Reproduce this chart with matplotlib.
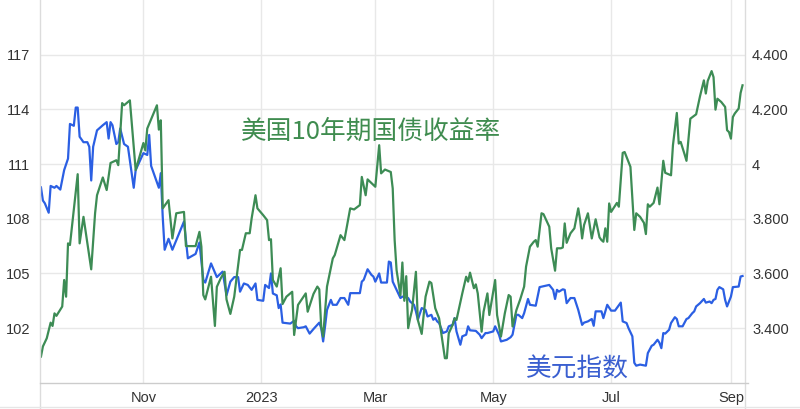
import matplotlib
matplotlib.use("Agg")
import matplotlib.pyplot as plt
import numpy as np
import pandas as pd
from matplotlib.lines import Line2D

start = pd.Timestamp("2022-09-09")

# US dollar index (left axis), days counted from start
dxy_days = [0, 1, 2, 4, 5, 7, 8, 10, 12, 14,
            15, 17, 18, 19, 20, 22, 24, 25, 26, 27,
            29, 32, 34, 35, 36, 37, 39, 40, 41, 43,
            45, 48, 49, 53, 55, 56, 57, 60, 61, 62,
            63, 64, 66, 68, 74, 76, 78, 80, 82, 84,
            85, 88, 91, 94, 96, 98, 100, 102, 103, 105,
            107, 109, 111, 112, 115, 116, 118, 119, 120, 122,
            123, 124, 125, 129, 131, 132, 133, 136, 137, 139,
            141, 144, 145, 146, 147, 148, 150, 151, 153, 155,
            157, 159, 160, 165, 166, 167, 169, 171, 172, 173,
            175, 176, 179, 180, 181, 182, 184, 186, 187, 190,
            191, 193, 194, 195, 197, 199, 200, 202, 203, 204,
            205, 206, 208, 210, 211, 213, 214, 215, 217, 218,
            220, 221, 222, 225, 227, 228, 230, 231, 234, 235,
            237, 238, 241, 243, 244, 246, 247, 249, 250, 252,
            253, 256, 258, 261, 263, 265, 266, 267, 268, 270,
            271, 272, 274, 276, 278, 280, 281, 283, 285, 286,
            287, 290, 291, 293, 295, 297, 300, 301, 303, 304,
            306, 307, 308, 310, 313, 314, 316, 317, 319, 320,
            321, 322, 323, 325, 326, 328, 329, 330, 332, 334,
            335, 337, 338, 339, 341, 343, 344, 346, 347, 348,
            349, 350, 351, 353, 354, 355, 357, 358, 361, 362,
            363]
dxy = [109.72, 109.0, 108.85, 108.33, 109.8, 109.7, 109.8, 109.6, 110.67, 111.3,
       113.2, 113.1, 114.1, 114.1, 112.5, 112.2, 112.2, 111.95, 110.1, 111.95,
       112.85, 113.13, 113.3, 112.4, 113.3, 113.13, 112.1, 112.2, 112.95, 112.1,
       111.95, 109.7, 110.67, 111.6, 111.5, 112.6, 110.9, 110.0, 109.7, 110.5,
       108.1, 106.3, 106.9, 106.3, 107.85, 105.83, 105.95, 106.07, 106.7, 104.65,
       104.5, 105.55, 104.8, 105.1, 103.8, 104.55, 104.8, 104.8, 104.0, 104.45,
       104.37, 104.1, 104.45, 103.55, 103.5, 104.37, 104.2, 105.0, 103.9, 103.8,
       103.1, 103.3, 102.3, 102.25, 102.4, 102.1, 102.0, 102.05, 102.1, 101.7,
       101.95, 102.3, 102.0, 101.27, 102.1, 103.0, 103.55, 103.28, 103.28, 103.65,
       103.65, 103.28, 103.92, 103.92, 104.55, 104.65, 105.23, 104.92, 104.83, 104.55,
       105.0, 104.5, 104.5, 105.65, 105.6, 104.55, 104.1, 103.65, 103.73, 103.65,
       103.46, 103.28, 102.92, 102.46, 103.1, 103.0, 102.64, 102.73, 102.46, 102.55,
       102.37, 102.28, 101.73, 101.82, 102.1, 102.18, 102.55, 101.82, 101.09, 101.55,
       101.64, 102.1, 101.88, 101.85, 101.64, 101.45, 101.73, 101.73, 101.82, 102.1,
       101.64, 101.27, 101.36, 101.5, 101.64, 102.73, 102.73, 102.55, 102.82, 103.6,
       103.28, 103.23, 104.25, 104.32, 104.37, 104.1, 103.6, 104.1, 104.0, 104.13,
       104.1, 103.37, 103.65, 103.65, 103.0, 102.18, 102.3, 102.37, 102.5, 102.13,
       102.92, 102.92, 102.55, 103.28, 102.96, 102.96, 103.4, 102.37, 102.28, 102.0,
       101.55, 100.1, 99.94, 100.0, 99.94, 100.63, 101.03, 101.09, 101.36, 101.2,
       100.9, 101.73, 101.7, 101.91, 102.28, 102.6, 102.5, 102.1, 102.1, 102.5,
       102.55, 102.82, 102.92, 103.19, 103.37, 103.6, 103.4, 103.46, 103.37, 103.55,
       103.6, 104.1, 104.25, 104.13, 103.55, 103.19, 103.73, 104.25, 104.28, 104.83,
       104.86]

# US 10-year treasury yield (right axis)
ust_days = [0, 1, 3, 5, 6, 7, 8, 11, 12, 13,
            14, 15, 19, 20, 22, 26, 28, 29, 32, 34,
            36, 39, 40, 42, 43, 46, 49, 53, 54, 55,
            60, 61, 62, 63, 66, 68, 70, 74, 75, 80,
            82, 83, 84, 85, 88, 90, 91, 93, 95, 96,
            98, 100, 103, 104, 106, 108, 109, 111, 112, 115,
            117, 118, 119, 120, 122, 124, 125, 127, 130, 131,
            133, 137, 138, 141, 143, 144, 145, 146, 148, 151,
            152, 155, 157, 160, 162, 165, 166, 168, 169, 173,
            175, 176, 178, 181, 182, 183, 184, 186, 187, 188,
            189, 190, 191, 192, 194, 195, 197, 199, 201, 202,
            204, 206, 207, 209, 210, 211, 213, 214, 215, 218,
            220, 221, 222, 224, 225, 226, 228, 229, 231, 232,
            235, 236, 238, 240, 242, 243, 244, 246, 248, 250,
            251, 253, 255, 256, 257, 259, 260, 263, 264, 266,
            267, 269, 270, 271, 272, 274, 276, 278, 279, 280,
            281, 283, 285, 287, 289, 290, 291, 292, 293, 294,
            295, 298, 299, 301, 302, 305, 307, 308, 310, 312,
            313, 314, 315, 317, 319, 320, 322, 323, 326, 327,
            329, 330, 331, 333, 334, 336, 339, 341, 343, 344,
            345, 347, 348, 349, 350, 352, 354, 355, 356, 357,
            358, 359, 361, 362, 363]
ust = [3.296, 3.333, 3.363, 3.42, 3.408, 3.454, 3.445, 3.479, 3.576, 3.515,
       3.71, 3.704, 3.963, 3.71, 3.807, 3.615, 3.82, 3.886, 3.951, 3.905,
       4.004, 4.014, 3.996, 4.223, 4.215, 4.233, 3.978, 4.077, 4.05, 4.13,
       4.215, 4.126, 4.16, 3.838, 3.868, 3.728, 3.82, 3.825, 3.7, 3.7,
       3.752, 3.698, 3.521, 3.505, 3.588, 3.408, 3.551, 3.582, 3.606, 3.505,
       3.452, 3.515, 3.686, 3.686, 3.747, 3.747, 3.801, 3.886, 3.838, 3.813,
       3.795, 3.722, 3.725, 3.576, 3.552, 3.619, 3.488, 3.515, 3.533, 3.375,
       3.485, 3.527, 3.46, 3.525, 3.552, 3.542, 3.405, 3.369, 3.552, 3.655,
       3.667, 3.74, 3.722, 3.838, 3.834, 3.85, 3.953, 3.886, 3.944, 3.917,
       4.069, 3.966, 3.98, 3.971, 3.911, 3.722, 3.612, 3.52, 3.64, 3.50,
       3.59, 3.40, 3.436, 3.466, 3.606, 3.43, 3.379, 3.515, 3.57, 3.565,
       3.473, 3.436, 3.387, 3.29, 3.29, 3.381, 3.412, 3.436, 3.43, 3.527,
       3.588, 3.57, 3.603, 3.546, 3.56, 3.527, 3.387, 3.46, 3.527, 3.448,
       3.576, 3.448, 3.369, 3.454, 3.521, 3.515, 3.406, 3.466, 3.506, 3.552,
       3.625, 3.698, 3.716, 3.722, 3.698, 3.82, 3.817, 3.771, 3.692, 3.61,
       3.692, 3.692, 3.695, 3.783, 3.712, 3.747, 3.765, 3.838, 3.795, 3.728,
       3.777, 3.82, 3.728, 3.798, 3.732, 3.722, 3.716, 3.765, 3.716, 3.856,
       3.825, 3.858, 3.844, 4.041, 4.044, 3.99, 3.759, 3.82, 3.807, 3.785,
       3.744, 3.853, 3.844, 3.858, 3.914, 3.853, 4.012, 3.968, 3.959, 4.069,
       4.187, 4.075, 4.081, 4.036, 4.012, 4.166, 4.182, 4.248, 4.306, 4.258,
       4.304, 4.34, 4.318, 4.199, 4.239, 4.227, 4.209, 4.124, 4.117, 4.093,
       4.172, 4.185, 4.203, 4.26, 4.288]

month_ticks = ["2022-11-01", "2023-01-01", "2023-03-01", "2023-05-01", "2023-07-01", "2023-09-01"]
month_labels = ["Nov", "2023", "Mar", "May", "Jul", "Sep"]
left_ticks = [102, 105, 108, 111, 114, 117]
right_ticks = [3.4, 3.6, 3.8, 4.0, 4.2, 4.4]
right_labels = ["3.400", "3.600", "3.800", "4", "4.200", "4.400"]

assert len(dxy_days) == len(dxy)
assert len(ust_days) == len(ust)

dxy_dates = start + pd.to_timedelta(dxy_days, unit="D")
ust_dates = start + pd.to_timedelta(ust_days, unit="D")

blue = "#2b5fe3"
green = "#3d8c55"
tick_font = "Liberation Sans"
cjk = ["Noto Sans CJK SC", "DejaVu Sans"]

fig = plt.figure(figsize=(8, 4.09), dpi=100)
ax = fig.add_axes([0.05, 0.064, 0.8813, 0.936])
ax2 = ax.twinx()

ax.plot(dxy_dates, dxy, color=blue, lw=1.6, zorder=3)
ax2.plot(ust_dates, ust, color=green, lw=1.6, zorder=3)

ax.set_xlim(start - pd.Timedelta(days=0.5), start + pd.Timedelta(days=364.3))
ax.set_ylim(99, 120)
ax2.set_ylim(3.2, 4.6)

ax.set_xticks(pd.to_datetime(month_ticks))
ax.set_xticklabels(month_labels)
ax.set_yticks(left_ticks)
ax.set_yticklabels([str(v) for v in left_ticks])
ax2.set_yticks(right_ticks)
ax2.set_yticklabels(right_labels)

ax.grid(True, color="#e8e8e8", lw=1)
ax.set_axisbelow(True)
for a in (ax, ax2):
    a.tick_params(length=0, labelsize=10.5, labelcolor="#333333")
    for lab in a.get_xticklabels() + a.get_yticklabels():
        lab.set_fontfamily(tick_font)
    for s in a.spines.values():
        s.set_visible(False)
ax.tick_params(axis="y", pad=7)
ax.tick_params(axis="x", pad=6)
ax2.tick_params(axis="y", pad=5)

# frame lines as in the source screenshot
fig.add_artist(Line2D([0.05, 0.05], [0, 1], color="#dcdcdc", lw=1))
fig.add_artist(Line2D([0.9313, 0.9313], [0, 1], color="#dcdcdc", lw=1))
fig.add_artist(Line2D([0.05, 0.935], [0.064, 0.064], color="#cccccc", lw=1))
fig.add_artist(Line2D([0, 1], [0.004, 0.004], color="#e6e6e6", lw=1))

ax.text(0.285, 0.655, "美国10年期国债收益率", transform=ax.transAxes, color="#3f8c4f",
        fontsize=18.5, family=cjk, va="center", ha="left", zorder=5)
ax.text(0.69, 0.034, "美元指数", transform=ax.transAxes, color="#3a5fd0",
        fontsize=18.5, family=cjk, va="center", ha="left", zorder=5)

fig.savefig("out.png", dpi=100)
